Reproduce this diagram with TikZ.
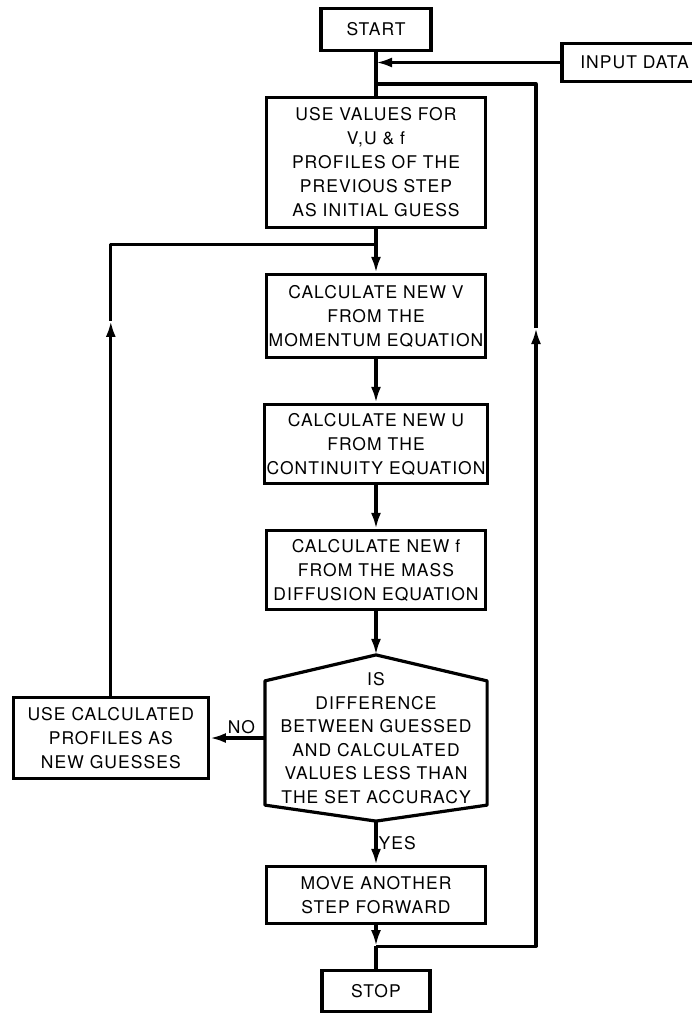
\documentclass[tikz,border=0pt]{standalone}
\usepackage{fontspec}
\setmainfont[LetterSpace=6]{TeX Gyre Heros}
\usetikzlibrary{arrows.meta,positioning}

\begin{document}
\begin{tikzpicture}[x=1pt, y=1pt,
      line/.style={line width=3.2pt, line join=round},
      arr/.style={line, -{Latex[length=16pt,width=10pt]}},
      box/.style={draw, line width=3.2pt, align=center, inner sep=2pt,
                  font=\fontsize{17.5}{24}\selectfont, minimum width=219pt},
      lbl/.style={font=\fontsize{17.5}{20}\selectfont, inner sep=3pt},
      node distance=43.8pt
    ]
    \useasboundingbox (0,0) rectangle (692,-1015);
    \node[box, minimum width=110pt, minimum height=42pt] (start) at (376,-29.5) {START};
    \node[box, minimum width=145pt, minimum height=38pt] (input) at (634.5,-62.5) {INPUT DATA};
    \node[box, minimum height=130pt, below=of start] (useval) {%
      USE VALUES FOR\\ V,U \& f\\ PROFILES OF THE\\ PREVIOUS STEP\\ AS INITIAL GUESS};
    \node[box, minimum height=83pt, below=of useval] (calcv) {%
      CALCULATE NEW V\\ FROM THE\\ MOMENTUM EQUATION};
    \node[box, minimum height=79pt, below=of calcv] (calcu) {%
      CALCULATE NEW U\\ FROM THE\\ CONTINUITY EQUATION};
    \node[box, minimum height=79pt, below=of calcu] (calcf) {%
      CALCULATE NEW f\\ FROM THE MASS\\ DIFFUSION EQUATION};
    \node[box, draw=none, minimum height=163pt, below=of calcf,
          font=\fontsize{17.5}{23.5}\selectfont] (test) {%
      IS\\ DIFFERENCE\\ BETWEEN GUESSED\\ AND CALCULATED\\ VALUES LESS THAN\\ THE SET ACCURACY};
    \draw[line] (test.north) -- ([yshift=-26pt]test.north east) -- ([yshift=16pt]test.south east)
      -- (test.south) -- ([yshift=16pt]test.south west) -- ([yshift=-26pt]test.north west) -- cycle;
    \node[box, minimum width=195pt, minimum height=81pt, left=55pt of test] (guess) {%
      USE CALCULATED\\ PROFILES AS\\ NEW GUESSES};
    \node[box, minimum height=57pt, below=of test] (move) {%
      MOVE ANOTHER\\ STEP FORWARD};
    \node[box, minimum width=108pt, minimum height=41pt, below=of move] (stop) {STOP};

    \coordinate (jret) at ([yshift=12pt]useval.north);
    \coordinate (jloop) at ([yshift=-15pt]useval.south);
    \coordinate (jout) at ([yshift=-21pt]move.south);
    \coordinate (lup) at ([yshift=375pt]guess.north);
    \coordinate (rup) at (536,-328);

    \draw[line] (start) -- (useval);
    \draw[arr] (input.west) -- (input.west -| start.south);
    \draw[arr] (useval) -- (calcv);
    \draw[arr] (calcv) -- (calcu);
    \draw[arr] (calcu) -- (calcf);
    \draw[arr] (calcf) -- (test);
    \draw[arr] (test.west) -- (test.west -| guess.east) node[lbl, midway, above, xshift=4pt] (no) {NO};
    \draw[arr] (test) -- (move) node[lbl, midway, right, xshift=-2pt] (yes) {YES};
    \draw[arr] (guess) -- (lup);
    \draw[line] (lup) |- (jloop);
    \draw[arr] (move) -- (jout);
    \draw[line] (jout) -- (stop);
    \draw[arr] (jout) -| (rup);
    \draw[line] (rup) |- (jret);
  \end{tikzpicture}
\end{document}
